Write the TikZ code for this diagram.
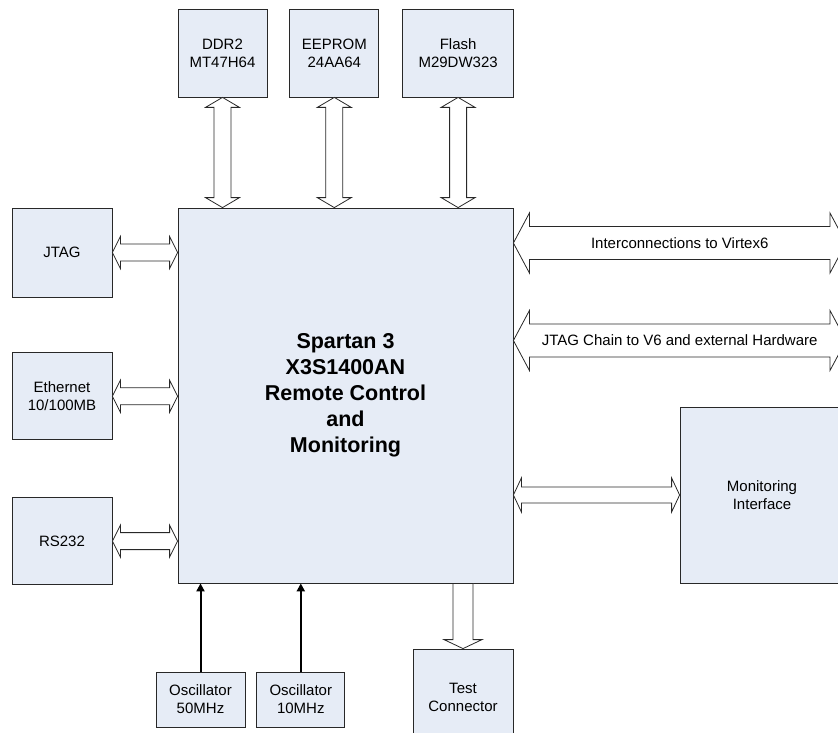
\documentclass[tikz,border=0pt]{standalone}
\usepackage{fontspec}
\setmainfont{Liberation Sans}
\usetikzlibrary{positioning,calc,arrows.meta}
\definecolor{boxfill}{RGB}{230,236,246}
\definecolor{edge}{RGB}{40,40,40}

\newcommand{\hfat}[5]{\draw[fat] let \p1=#1, \p2=#2 in (\x1,\y1) -- (\x1+#5,\y1+#4) -- (\x1+#5,\y1+#3) -- (\x2-#5,\y1+#3) -- (\x2-#5,\y1+#4) -- (\x2,\y1) -- (\x2-#5,\y1-#4) -- (\x2-#5,\y1-#3) -- (\x1+#5,\y1-#3) -- (\x1+#5,\y1-#4) -- cycle;}
\newcommand{\vfat}[5]{\draw[fat] let \p1=#1, \p2=#2 in (\x1,\y1) -- (\x1+#4,\y1-#5) -- (\x1+#3,\y1-#5) -- (\x1+#3,\y2+#5) -- (\x1+#4,\y2+#5) -- (\x1,\y2) -- (\x1-#4,\y2+#5) -- (\x1-#3,\y2+#5) -- (\x1-#3,\y1-#5) -- (\x1-#4,\y1-#5) -- cycle;}

\begin{document}
\begin{tikzpicture}[x=1pt, y=-1pt, node distance=22pt,
    box/.style = {draw=edge, line width=0.8pt, fill=boxfill, inner sep=0pt, align=center, font=\fontsize{15}{18}\selectfont},
    fat/.style = {draw=edge, line width=0.8pt, fill=white},
    clk/.style = {line width=2pt, -{Triangle[length=8pt,width=8pt]}} ]
        \useasboundingbox (0,0) rectangle (838,733);
        \clip (0,0) rectangle (838,733);

        \node[box, minimum width=335pt, minimum height=375pt, font=\bfseries\fontsize{21.5}{26}\selectfont] (S3) at (345.5,395.5) {Spartan 3\\X3S1400AN\\Remote Control\\and\\Monitoring};

        \node[box, minimum width=89pt, minimum height=88pt] (DDR) at (222.5,53) {DDR2\\MT47H64};
        \node[box, minimum width=89pt, minimum height=88pt] (EEP) [right = 22pt of DDR] {EEPROM\\24AA64};
        \node[box, minimum width=111pt, minimum height=88pt] (FL) [right = 23pt of EEP] {Flash\\M29DW323};

        \node[box, minimum width=100pt, minimum height=89pt] (JT) at (62,252.5) {JTAG};
        \node[box, minimum width=100pt, minimum height=87pt] (ETH) [below = 55pt of JT] {Ethernet\\10/100MB};
        \node[box, minimum width=100pt, minimum height=87pt] (RS) [below = 57pt of ETH] {RS232};

        \node[box, minimum width=164pt, minimum height=176pt] (MON) at (762,495) {Monitoring\\Interface};

        \node[box, minimum width=89pt, minimum height=55pt] (OSC1) at (200.5,699.5) {Oscillator\\50MHz};
        \node[box, minimum width=88pt, minimum height=55pt] (OSC2) [right = 11pt of OSC1] {Oscillator\\10MHz};
        \node[box, minimum width=100pt, minimum height=96pt] (TC) at (463,697) {Test\\Connector};

        \coordinate (V6) at (846,243);
        \coordinate (HW) at (846,340.5);

        % memories
        \vfat{(DDR.south)}{(DDR.south |- S3.north)}{8.5pt}{17pt}{10pt}
        \vfat{(EEP.south)}{(EEP.south |- S3.north)}{8.5pt}{17pt}{10pt}
        \vfat{(FL.south)}{(FL.south |- S3.north)}{8.5pt}{17pt}{10pt}

        % left side
        \hfat{(JT.east)}{(JT.east -| S3.west)}{8.5pt}{16pt}{8pt}
        \hfat{(ETH.east)}{(ETH.east -| S3.west)}{8.5pt}{16pt}{8pt}
        \hfat{(RS.east)}{(RS.east -| S3.west)}{8.5pt}{16pt}{8pt}

        % right side
        \hfat{(S3.east |- V6)}{(V6)}{16.5pt}{30pt}{16pt}
        \hfat{(S3.east |- HW)}{(HW)}{16.5pt}{30pt}{16pt}
        \hfat{(S3.east |- MON.west)}{(MON.west)}{8pt}{17pt}{8pt}
        \node[font=\fontsize{15}{18}\selectfont] (V6txt) at ($(S3.east |- V6)!.5!(V6)$) {Interconnections to Virtex6};
        \node[font=\fontsize{15}{18}\selectfont] (HWtxt) at ($(S3.east |- HW)!.5!(HW)$) {JTAG Chain to V6 and external Hardware};

        % bottom
        \draw[fat] let \p1=(S3.south -| TC.north), \p2=(TC.north) in (\x1-10pt,\y1) -- (\x1+10pt,\y1) -- (\x1+10pt,\y2+9pt) -- (\x1+19pt,\y2+9pt) -- (\x2,\y2) -- (\x1-19pt,\y2+9pt) -- (\x1-10pt,\y2+9pt) -- cycle;
        \draw[clk] (OSC1.north) -- (OSC1.north |- S3.south);
        \draw[clk] (OSC2.north) -- (OSC2.north |- S3.south);

    \end{tikzpicture}
\end{document}
